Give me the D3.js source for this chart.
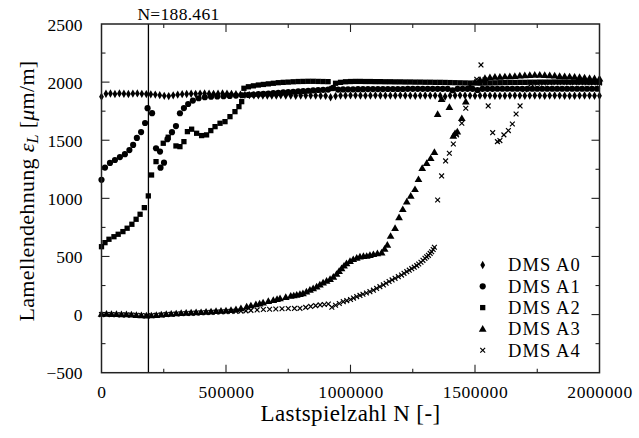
<!DOCTYPE html>
<html><head><meta charset="utf-8">
<script src="https://cdn.jsdelivr.net/npm/d3@7"></script>
<style>body{margin:0;background:#fff}svg{display:block}text{font-family:"Liberation Serif","Times New Roman",serif;fill:#000}</style>
</head><body><svg id="c" width="639" height="438"></svg>
<script>
// N values are in thousands of load cycles
const xTicks = [0, 500000, 1000000, 1500000, 2000000];
const yTicks = [-500, 0, 500, 1000, 1500, 2000, 2500];
const seriesNames = ["DMS A0", "DMS A1", "DMS A2", "DMS A3", "DMS A4"];
const markerLine = 188461;

const a0N = [0,18,36,54,72,90,108,126,144,162,180,198,216,234,252,270,288,306,324,342,360,378,396,414,432,450,468,486,504,522,540,558,576,594,612,630,648,666,684,702,720,740,760,780,800,820,840,860,880,900,920,940,960,980,1000,1020,1040,1060,1080,1100,1120,1140,1160,1180,1200,1220,1240,1260,1280,1300,1320,1340,1360,1380,1400,1420,1440,1460,1480,1500,1520,1540,1560,1580,1600,1620,1640,1660,1680,1700,1720,1740,1760,1780,1800,1820,1840,1860,1880,1900,1920,1940,1960,1980,2000];
const a0V = [1875,1900,1902,1898,1903,1900,1898,1901,1903,1899,1897,1895,1893,1888,1882,1880,1886,1892,1896,1898,1900,1899,1901,1902,1900,1899,1900,1902,1900,1898,1896,1893,1890,1888,1887,1886,1885,1884,1884,1885,1886,1885,1884,1883,1884,1885,1885,1884,1883,1882,1870,1880,1884,1885,1886,1886,1885,1884,1885,1886,1885,1884,1884,1885,1886,1885,1884,1883,1884,1885,1884,1884,1883,1876,1884,1885,1886,1885,1884,1883,1884,1885,1884,1883,1882,1883,1884,1885,1884,1883,1884,1885,1884,1883,1884,1885,1884,1883,1882,1883,1884,1885,1884,1883,1882];

const a1N = [0,14,34,54,74,94,112,127,142,159,175,185,203,219,235,237,251,265,283,299,315,331,348,367,390,415,440,465,490,515,540,565,590,610,630,650,670,690,710,730,750,770,790,810,830,850,870,890,910,930,950,970,990,1010,1030,1050,1070,1090,1110,1130,1150,1170,1190,1210,1230,1250,1270,1290,1310,1330,1350,1370,1390,1410,1430,1450,1470,1490,1510,1530,1550,1570,1590,1610,1630,1650,1670,1690,1710,1730,1750,1770,1790,1810,1830,1850,1870,1890,1910,1930,1950,1970,1990];
const a1V = [1160,1265,1305,1330,1355,1380,1415,1460,1520,1570,1648,1776,1733,1431,1402,1264,1307,1509,1569,1622,1732,1777,1812,1841,1861,1870,1874,1877,1879,1881,1884,1887,1890,1893,1896,1899,1902,1905,1908,1911,1914,1917,1920,1923,1926,1929,1932,1934,1936,1950,1936,1937,1938,1938,1939,1939,1940,1940,1940,1940,1941,1941,1941,1941,1942,1942,1942,1942,1942,1942,1942,1942,1942,1930,1942,1942,1942,1942,1932,1942,1942,1942,1943,1943,1943,1943,1943,1943,1943,1943,1943,1943,1943,1943,1943,1943,1943,1943,1943,1943,1943,1943,1943];

const a2N = [0,14,30,50,67,86,103,122,139,155,172,188,201,219,248,268,299,315,331,345,362,382,402,422,439,456,476,496,516,536,552,563,572,590,610,630,650,670,690,710,730,750,770,790,810,830,850,870,890,910,925,940,960,980,1000,1020,1040,1060,1080,1100,1120,1140,1160,1180,1200,1220,1240,1260,1280,1300,1320,1340,1360,1380,1400,1420,1440,1460,1480,1500,1520,1540,1560,1580,1600,1620,1640,1660,1680,1700,1720,1740,1760,1780,1800,1820,1840,1860,1880,1900,1920,1940,1960,1980,2000];
const a2V = [584,619,648,670,691,714,743,777,820,863,920,1021,1201,1316,1474,1526,1451,1445,1488,1574,1595,1560,1540,1546,1583,1617,1646,1660,1703,1746,1789,1832,1947,1960,1968,1975,1980,1985,1990,1995,1998,2000,2003,2005,2006,2007,2007,2006,2005,2004,1945,1990,1998,2003,2005,2006,2006,2005,2005,2004,2004,2003,2003,2002,2002,2001,2001,2000,2000,1999,1999,1998,1998,1997,1996,1995,1994,1993,1992,1992,1991,1992,1993,1994,1995,1996,1997,1997,1998,1998,1999,1999,2000,2000,2000,2001,2001,2001,2000,2000,2000,2000,1999,1999,1999];

const a3N = [0,20,40,60,80,100,120,140,160,180,200,220,240,260,280,300,320,340,360,380,400,420,440,460,480,500,520,540,560,583,600,620,635,649,670,690,705,717,740,760,772,784,797,809,823,837,850,864,877,890,904,918,931,944,954,964,974,984,998,1011,1025,1038,1052,1065,1078,1092,1108,1125,1137,1148,1161,1179,1195,1210,1226,1242,1259,1273,1288,1306,1322,1337,1350,1366,1397,1413,1420,1429,1447,1463,1480,1500,1520,1540,1560,1580,1600,1620,1640,1660,1680,1700,1720,1740,1760,1780,1800,1820,1840,1860,1880,1900,1920,1940,1960,1980,2000];
const a3V = [5,6,4,3,2,1,-1,-4,-7,-10,-8,-5,0,3,6,9,12,14,16,18,20,23,26,29,31,34,38,44,54,68,78,88,95,102,115,125,133,140,150,160,164,169,176,183,197,212,226,240,258,275,290,304,325,349,373,398,420,441,460,476,488,498,502,504,512,519,526,533,565,599,676,743,837,906,972,1021,1078,1164,1259,1302,1345,1397,1724,1853,1784,1537,1560,1574,1689,1832,1960,2000,2020,2035,2040,2045,2045,2048,2050,2052,2055,2058,2060,2062,2062,2060,2058,2055,2052,2050,2048,2045,2042,2038,2035,2032,2030];

const a4N = [0,20,40,60,80,100,120,140,160,180,200,220,240,260,280,300,320,340,360,380,400,420,440,460,480,500,520,540,560,580,600,625,650,675,700,725,750,775,797,820,840,860,878,895,911,925,940,955,971,985,1000,1012,1025,1038,1050,1064,1078,1092,1105,1118,1132,1143,1155,1167,1179,1192,1205,1215,1226,1236,1246,1256,1266,1274,1283,1291,1299,1306,1313,1320,1326,1332,1337,1350,1366,1382,1397,1413,1426,1447,1463,1507,1524,1540,1553,1571,1590,1600,1616,1634,1650,1665,1681,1700,1725,1750,1775,1800,1825,1850,1875,1900,1925,1950,1975,2000];
const a4V = [0,1,0,-1,-2,-3,-4,-6,-8,-10,-9,-6,-3,0,3,5,7,9,11,13,15,17,19,21,23,25,27,28,30,32,36,40,44,46,48,50,52,53,54,62,70,77,83,87,91,63,80,95,111,120,130,142,154,165,175,186,197,210,225,240,255,270,285,298,312,326,340,355,369,382,395,408,421,435,450,467,484,497,510,526,541,560,579,986,1193,1322,1388,1468,1546,1646,1775,2025,2148,2019,1795,1565,1488,1497,1546,1583,1640,1726,1795,1935,1985,1990,1992,1995,1995,1996,1996,1995,1995,1994,1994,1993,1993];

const W = 639, H = 438;
const m = {l: 101.5, r: 599.5, t: 24, b: 372.7};
const svg = d3.select("#c");
const x = d3.scaleLinear().domain([0, 2000000]).range([m.l, m.r]);
const y = d3.scaleLinear().domain([-500, 2500]).range([m.b, m.t]);

// ticks (inward) on all four sides
const xMinor = d3.range(0, 2000001, 250000);
const yMinor = d3.range(-500, 2501, 250);
const tk = svg.append("g").attr("stroke", "#222").attr("stroke-width", 1.1);
xMinor.forEach(v => {
  const L = (v % 500000 === 0) ? 8 : 4;
  if (v === 0 || v === 2000000) return;
  tk.append("line").attr("x1", x(v)).attr("x2", x(v)).attr("y1", m.b).attr("y2", m.b - L);
  tk.append("line").attr("x1", x(v)).attr("x2", x(v)).attr("y1", m.t).attr("y2", m.t + L);
});
yMinor.forEach(v => {
  const L = (v % 500 === 0) ? 8 : 4;
  if (v === -500 || v === 2500) return;
  tk.append("line").attr("y1", y(v)).attr("y2", y(v)).attr("x1", m.l).attr("x2", m.l + L);
  tk.append("line").attr("y1", y(v)).attr("y2", y(v)).attr("x1", m.r).attr("x2", m.r - L);
});

// axis tick labels via d3 axes (domain hidden)
const xAx = svg.append("g").attr("transform", `translate(0,${m.b})`)
  .call(d3.axisBottom(x).tickValues(xTicks).tickSize(0).tickPadding(0).tickFormat(d3.format("d")));
xAx.select(".domain").remove();
xAx.selectAll("text").attr("y", 25).attr("dy", 0).style("font-size", "17.5px").style("letter-spacing", "0.6px").style("font-family", '"Liberation Serif",serif').attr("fill", "#000");
const yAx = svg.append("g").attr("transform", `translate(${m.l},0)`)
  .call(d3.axisLeft(y).tickValues(yTicks).tickSize(0).tickPadding(0).tickFormat(d3.format("d")));
yAx.select(".domain").remove();
yAx.selectAll("text").attr("x", -19).attr("dy", "0.35em").style("font-size", "17.5px").style("font-family", '"Liberation Serif",serif').attr("fill", "#000");

// marker symbols
const sym = {
  "DMS A0": d3.symbol().type(d3.symbolDiamond).size(20),
  "DMS A1": d3.symbol().type(d3.symbolCircle).size(30),
  "DMS A2": d3.symbol().type(d3.symbolSquare).size(28),
  "DMS A3": d3.symbol().type(d3.symbolTriangle).size(26),
  "DMS A4": d3.symbol().type(d3.symbolCross).size(1)
};
function drawMarker(g, name, cx, cy) {
  if (name === "DMS A4") {
    const s = 2.4;
    g.append("path").attr("d", `M${cx-s},${cy-s}L${cx+s},${cy+s}M${cx-s},${cy+s}L${cx+s},${cy-s}`)
      .attr("stroke", "#000").attr("stroke-width", 1.2).attr("fill", "none");
  } else {
    const dy = name === "DMS A3" ? 0.6 : 0;
    g.append("path").attr("d", sym[name]()).attr("transform", `translate(${cx},${cy + dy})`).attr("fill", "#000");
  }
}
const data = [[a0N, a0V], [a1N, a1V], [a2N, a2V], [a3N, a3V], [a4N, a4V]];
const plot = svg.append("g");
const order = [4, 3, 2, 1, 0];
order.forEach(i => {
  const g = plot.append("g");
  data[i][0].forEach((n, j) => drawMarker(g, seriesNames[i], x(n * 1000), y(data[i][1][j])));
});

// vertical marker line
svg.append("line").attr("x1", x(markerLine)).attr("x2", x(markerLine)).attr("y1", m.t).attr("y2", m.b)
  .attr("stroke", "#000").attr("stroke-width", 1.3);
svg.append("text").attr("x", x(markerLine) - 11).attr("y", 20).style("font-size", "17.5px").style("letter-spacing", "0.3px").text("N=188.461");

// frame
svg.append("rect").attr("x", m.l).attr("y", m.t).attr("width", m.r - m.l).attr("height", m.b - m.t)
  .attr("fill", "none").attr("stroke", "#222").attr("stroke-width", 1.5);

// legend
const lg = svg.append("g");
seriesNames.forEach((s, i) => {
  const cy = 265 + i * 21.3;
  lg.append("rect").attr("x", 470).attr("y", cy - 10).attr("width", 120).attr("height", 20).attr("fill", "#fff");
});
seriesNames.forEach((s, i) => {
  const cy = 265 + i * 21.3;
  drawMarker(lg, s, 482.7, cy);
  lg.append("text").attr("x", 508).attr("y", cy).attr("dy", "0.35em").style("font-size", "18.5px").style("letter-spacing", "1.1px").text(s);
});

// axis titles
svg.append("text").attr("x", (m.l + m.r) / 2).attr("y", 421).attr("text-anchor", "middle")
  .style("font-size", "23px").style("letter-spacing", "0.4px").text("Lastspielzahl N [-]");
const yt = svg.append("text").attr("transform", `translate(34,191) rotate(-90)`).attr("text-anchor", "middle").style("font-size", "22px").style("letter-spacing", "0.3px");
yt.append("tspan").text("Lamellendehnung ");
yt.append("tspan").style("font-style", "italic").text("ε");
yt.append("tspan").style("font-style", "italic").style("font-size", "16px").attr("dy", 4).text("L");
yt.append("tspan").attr("dy", -4).text(" [");
yt.append("tspan").style("font-style", "italic").text("μ");
yt.append("tspan").text("m/m]");
</script></body></html>
